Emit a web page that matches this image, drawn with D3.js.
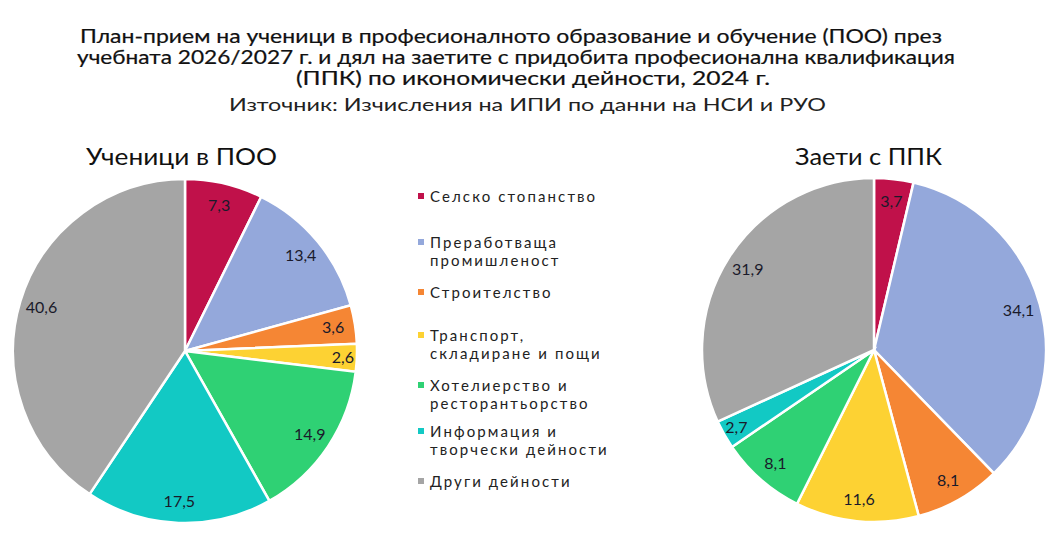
<!DOCTYPE html>
<html><head><meta charset="utf-8">
<script src="https://cdn.jsdelivr.net/npm/d3@7/dist/d3.min.js"></script>
<style>body{margin:0;background:#fff;} svg{display:block;}</style>
</head><body>
<svg id="c" width="1062" height="554"></svg>
<script>
const categories = ["Селско стопанство","Преработваща промишленост","Строителство","Транспорт, складиране и пощи","Хотелиерство и ресторантьорство","Информация и творчески дейности","Други дейности"];
const legendLines = [["Селско стопанство"],["Преработваща","промишленост"],["Строителство"],["Транспорт,","складиране и пощи"],["Хотелиерство и","ресторантьорство"],["Информация и","творчески дейности"],["Други дейности"]];
const colors = ["#C0114A","#94A8DB","#F58634","#FDD233","#2FD174","#12C9C4","#A5A5A5"];
const studentsValues = [7.3,13.4,3.6,2.6,14.9,17.5,40.6];
const employedValues = [3.7,34.1,8.1,11.6,8.1,2.7,31.9];
const titleLines = ["План-прием на ученици в професионалното образование и обучение (ПОО) през","учебната 2026/2027 г. и дял на заетите с придобита професионална квалификация","(ППК) по икономически дейности, 2024 г."];
const subtitle = "Източник: Изчисления на ИПИ по данни на НСИ и РУО";
const pieTitles = ["Ученици в ПОО","Заети с ППК"];

const svg = d3.select("#c");
const font = "Lato, 'Noto Sans', sans-serif";

// titles
const tl = [[80,942,43],[77,955,64],[296,770,85]];
titleLines.forEach((t,i)=>{
  svg.append("text").attr("x",(tl[i][0]+tl[i][1])/2).attr("y",tl[i][2])
    .attr("text-anchor","middle").attr("font-family",font).attr("font-weight",400)
    .attr("font-size",18.5).attr("fill","#111").attr("stroke","#111").attr("stroke-width",0.2)
    .attr("textLength",tl[i][1]-tl[i][0]).attr("lengthAdjust","spacingAndGlyphs").text(t);
});
svg.append("text").attr("x",(229+826)/2).attr("y",111).attr("text-anchor","middle")
  .attr("font-family",font).attr("font-size",18).attr("fill","#222")
  .attr("textLength",826-229).attr("lengthAdjust","spacingAndGlyphs").text(subtitle);

const pies = [{cx:185,cy:351,vals:studentsValues,title:pieTitles[0],tx:[86,277]},
              {cx:874,cy:350,vals:employedValues,title:pieTitles[1],tx:[795,942]}];
const R = 172;
const pie = d3.pie().sort(null).value(d=>d);
const arc = d3.arc().innerRadius(0).outerRadius(R);
pies.forEach(p=>{
  svg.append("text").attr("x",(p.tx[0]+p.tx[1])/2).attr("y",165).attr("text-anchor","middle")
    .attr("font-family",font).attr("font-size",23).attr("fill","#111")
    .attr("textLength",p.tx[1]-p.tx[0]).attr("lengthAdjust","spacingAndGlyphs").text(p.title);
  const g = svg.append("g").attr("transform",`translate(${p.cx},${p.cy})`);
  const arcs = pie(p.vals);
  g.selectAll("path").data(arcs).join("path").attr("d",arc)
    .attr("fill",(d,i)=>colors[i]).attr("stroke","#fff").attr("stroke-width",2.5);
  g.selectAll("text").data(arcs).join("text")
    .attr("transform",d=>{
      const a=(d.startAngle+d.endAngle)/2;
      const r = (d.endAngle-d.startAngle)<0.2 ? 158 : 150;
      return `translate(${Math.sin(a)*r},${-Math.cos(a)*r})`;})
    .attr("text-anchor","middle").attr("dy","0.35em")
    .attr("font-family",font).attr("font-size",16).attr("fill","#1a1a2a")
    .text(d=>String(d.data).replace(".",","));
});

// legend
const ly = [197,243,293,336,386,432,482];
legendLines.forEach((lines,i)=>{
  svg.append("rect").attr("x",418).attr("y",ly[i]-4).attr("width",6).attr("height",6).attr("fill",colors[i]);
  lines.forEach((l,j)=>{
    svg.append("text").attr("x",430).attr("y",ly[i]+5+j*18).attr("font-family",font)
      .attr("font-size",15).attr("letter-spacing",2.1).attr("fill","#222").text(l);
  });
});
</script>
</body></html>
